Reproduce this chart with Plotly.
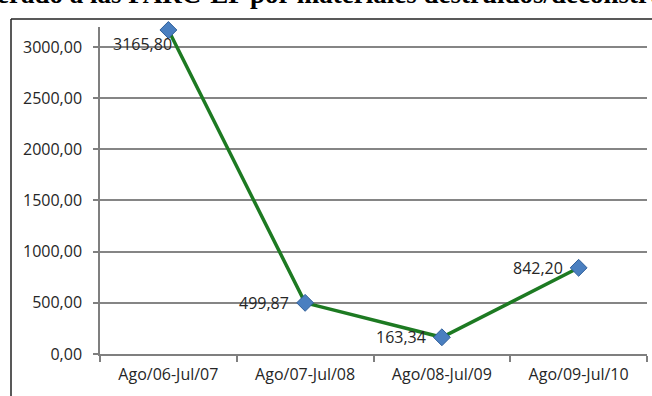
import plotly.graph_objects as go

# Periods and the value recorded for each one
periods = ["Ago/06-Jul/07", "Ago/07-Jul/08", "Ago/08-Jul/09", "Ago/09-Jul/10"]
values = [3165.80, 499.87, 163.34, 842.20]

# Value axis ticks
y_ticks = [0, 500, 1000, 1500, 2000, 2500, 3000]

heading = "nerado a las PARC-EP por materiales destruidos/deconstruidos"


def fmt(v):
    return f"{v:.2f}".replace(".", ",")


W, H = 652, 396
L, R, T, B = 100, 5, 27, 42
pw, ph = W - L - R, H - T - B


def px_x(x):
    return (x - L) / pw


def px_y(y):
    return (H - B - y) / ph


FONT = "Open Sans"
TXT = "#262626"
FS = 16

fig = go.Figure()
fig.add_trace(go.Scatter(
    x=periods, y=values, mode="lines+markers",
    line=dict(color="#1d7a22", width=3.5),
    marker=dict(symbol="diamond", size=13, color="#4a7fc0",
                line=dict(color="#2f5f9a", width=1)),
    cliponaxis=False, showlegend=False, hoverinfo="skip",
))

# Data labels to the left of each point
for i, (p, v) in enumerate(zip(periods, values)):
    fig.add_annotation(
        x=p, y=v, text=fmt(v), showarrow=False,
        xanchor="right", yanchor="middle",
        xshift=-14 if i else 6, yshift=0 if i else -14,
        font=dict(family=FONT, size=FS, color=TXT),
    )

# Partially visible heading from the surrounding page
fig.add_annotation(
    xref="paper", yref="paper", x=px_x(-20), y=px_y(-6),
    xanchor="left", yanchor="middle", text=f"<b>{heading}</b>",
    showarrow=False, font=dict(family="Liberation Serif", size=27, color="#000"),
)

# Frame around the chart
fig.add_shape(type="line", xref="paper", yref="paper", layer="above",
              x0=px_x(11), x1=px_x(W + 5), y0=px_y(19), y1=px_y(19),
              line=dict(color="#222", width=1.5))
fig.add_shape(type="line", xref="paper", yref="paper", layer="above",
              x0=px_x(11), x1=px_x(11), y0=px_y(19), y1=px_y(H + 5),
              line=dict(color="#222", width=1.5))

fig.update_layout(
    width=W, height=H,
    margin=dict(l=L, r=R, t=T, b=B),
    paper_bgcolor="white", plot_bgcolor="white",
    font=dict(family=FONT, size=FS, color=TXT),
    xaxis=dict(
        type="category", range=[-0.5, len(periods) - 0.5],
        showline=True, linecolor="#7f7f7f", linewidth=1.5,
        ticks="outside", ticklen=6, tickcolor="#7f7f7f", tickwidth=1.5,
        tickson="boundaries", showgrid=False, ticklabelstandoff=5,
        tickfont=dict(family=FONT, size=FS, color=TXT),
    ),
    yaxis=dict(
        range=[0, 3195], tickvals=y_ticks, ticktext=[fmt(t) for t in y_ticks],
        showline=True, linecolor="#7f7f7f", linewidth=1.5,
        ticks="outside", ticklen=5, tickcolor="#7f7f7f", tickwidth=1.5,
        showgrid=True, gridcolor="#858585", gridwidth=1.5,
        zeroline=False, ticklabelstandoff=8,
        tickfont=dict(family=FONT, size=FS, color=TXT),
    ),
)

fig.write_html("out.html")
